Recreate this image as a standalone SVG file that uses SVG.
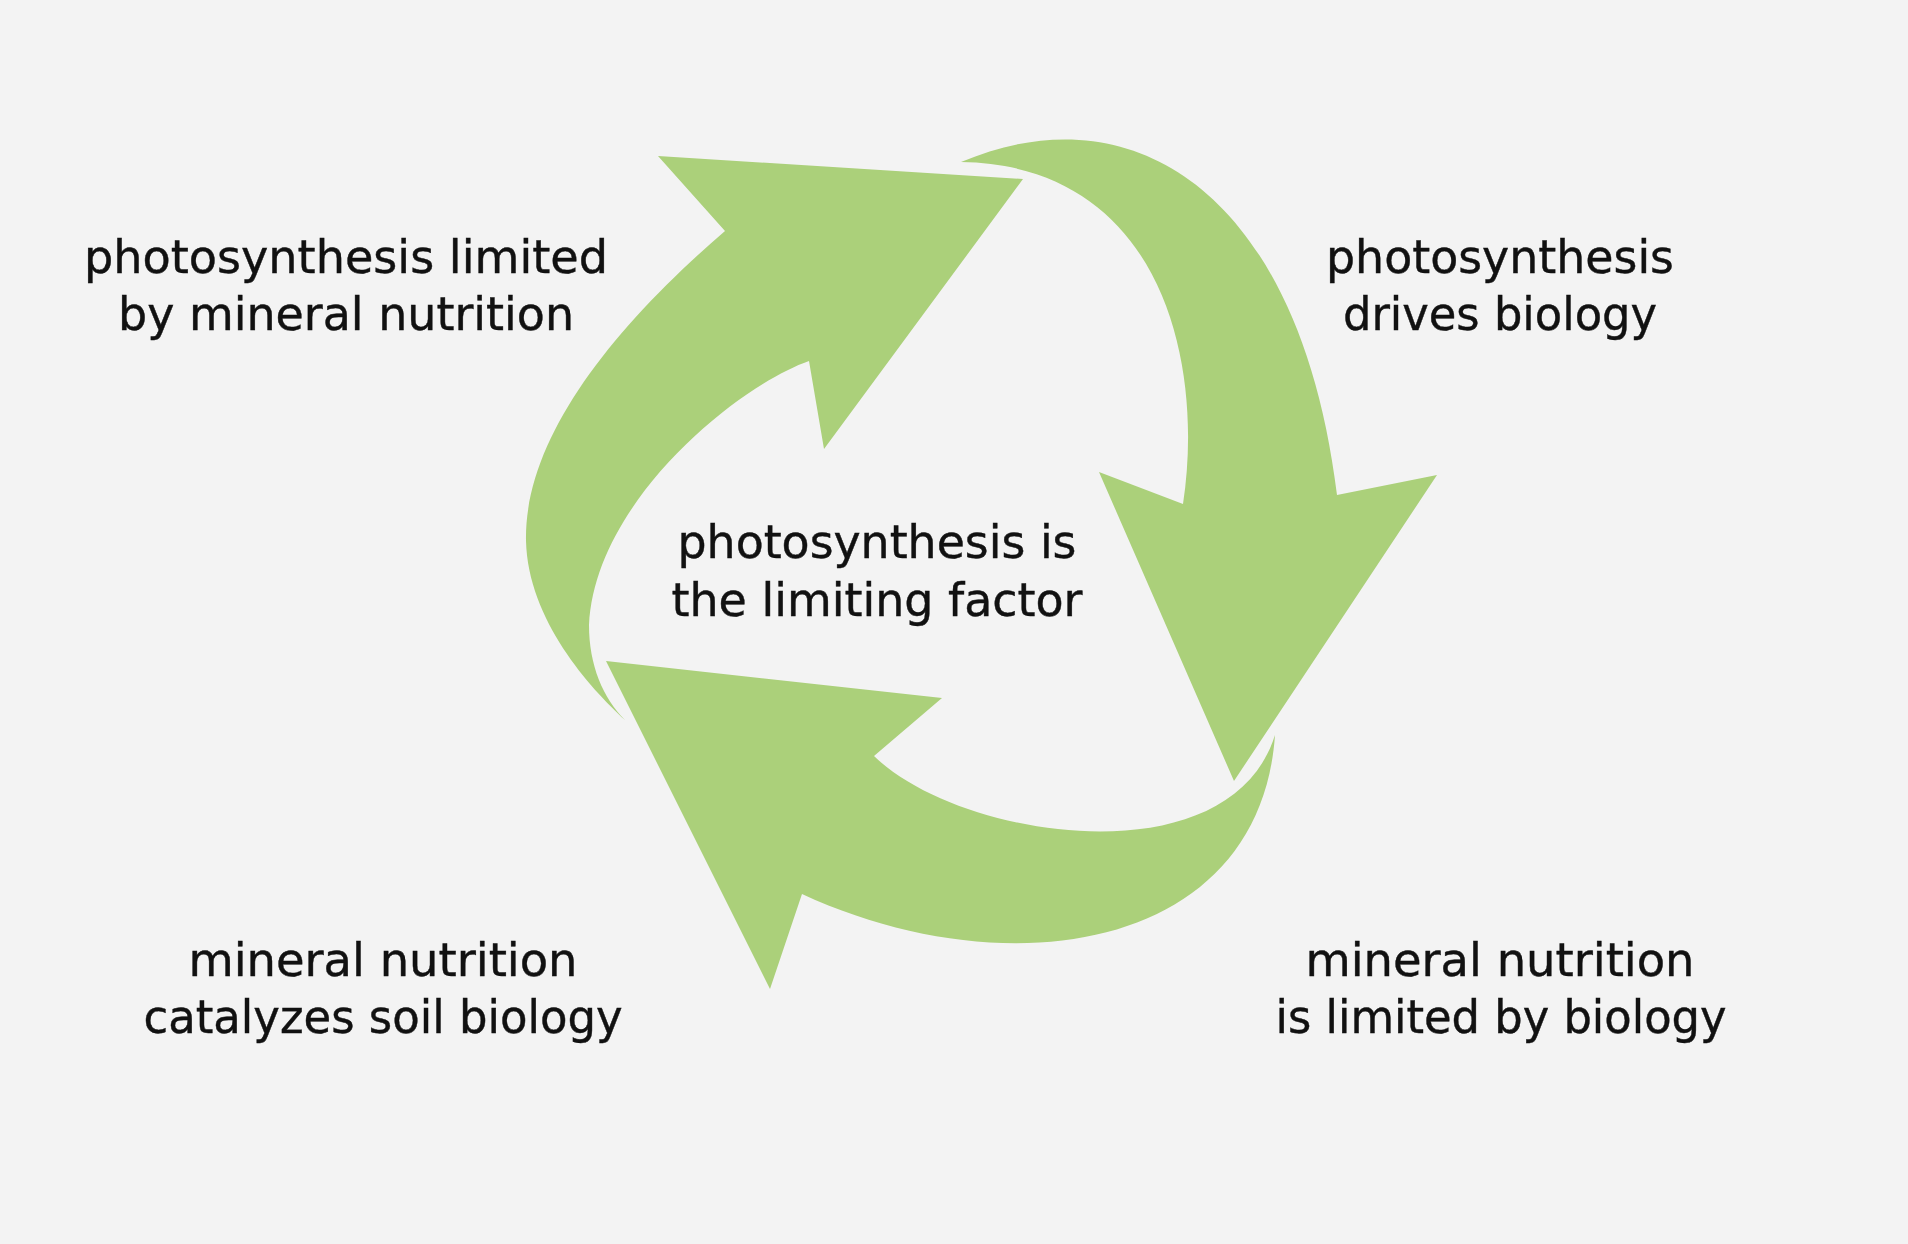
<svg xmlns="http://www.w3.org/2000/svg" width="1908" height="1244" viewBox="0 0 1908 1244">
<style>
.arrow{fill:#abd07a;stroke:none}
.lbl{font-family:"DejaVu Sans Condensed","DejaVu Sans",sans-serif;font-size:47px;fill:#111111;stroke:#111111;stroke-width:0.4;text-anchor:middle}
</style>
<rect width="1908" height="1244" fill="#f3f3f3"/>
<g id="connectors">
<path id="arrow-left" class="arrow" d="M625,720 C590,688 528,620 526,541 C524,440 610,330 725,231 L658,156 L1023,179 L824,449 L809,361 C740,385 595,500 589,625 C589,665 603,698 625,720 Z"/>
<path id="arrow-right" class="arrow" d="M961,162 C1135,88 1300,195 1337,495 L1437,475 L1234,781 L1099,472 L1183,504 C1205,360 1160,165 961,162 Z"/>
<path id="arrow-bottom" class="arrow" d="M1275,735 C1260,950 1010,990 802,894 L770,989 L606,661 L942,698 L874,756 C960,840 1230,880 1275,735 Z"/>
</g>
<g id="node-top-left">
<text class="lbl" x="346" y="273" textLength="524" lengthAdjust="spacingAndGlyphs">photosynthesis limited</text>
<text class="lbl" x="346" y="330" textLength="456" lengthAdjust="spacingAndGlyphs">by mineral nutrition</text>
</g>
<g id="node-top-right">
<text class="lbl" x="1500" y="273" textLength="348" lengthAdjust="spacingAndGlyphs">photosynthesis</text>
<text class="lbl" x="1500" y="330" textLength="314" lengthAdjust="spacingAndGlyphs">drives biology</text>
</g>
<g id="node-center">
<text class="lbl" x="877" y="558" textLength="399" lengthAdjust="spacingAndGlyphs">photosynthesis is</text>
<text class="lbl" x="877" y="616" textLength="411" lengthAdjust="spacingAndGlyphs">the limiting factor</text>
</g>
<g id="node-bottom-left">
<text class="lbl" x="383" y="976" textLength="389" lengthAdjust="spacingAndGlyphs">mineral nutrition</text>
<text class="lbl" x="383" y="1033" textLength="479" lengthAdjust="spacingAndGlyphs">catalyzes soil biology</text>
</g>
<g id="node-bottom-right">
<text class="lbl" x="1500" y="976" textLength="389" lengthAdjust="spacingAndGlyphs">mineral nutrition</text>
<text class="lbl" x="1501" y="1033" textLength="451" lengthAdjust="spacingAndGlyphs">is limited by biology</text>
</g>
</svg>
